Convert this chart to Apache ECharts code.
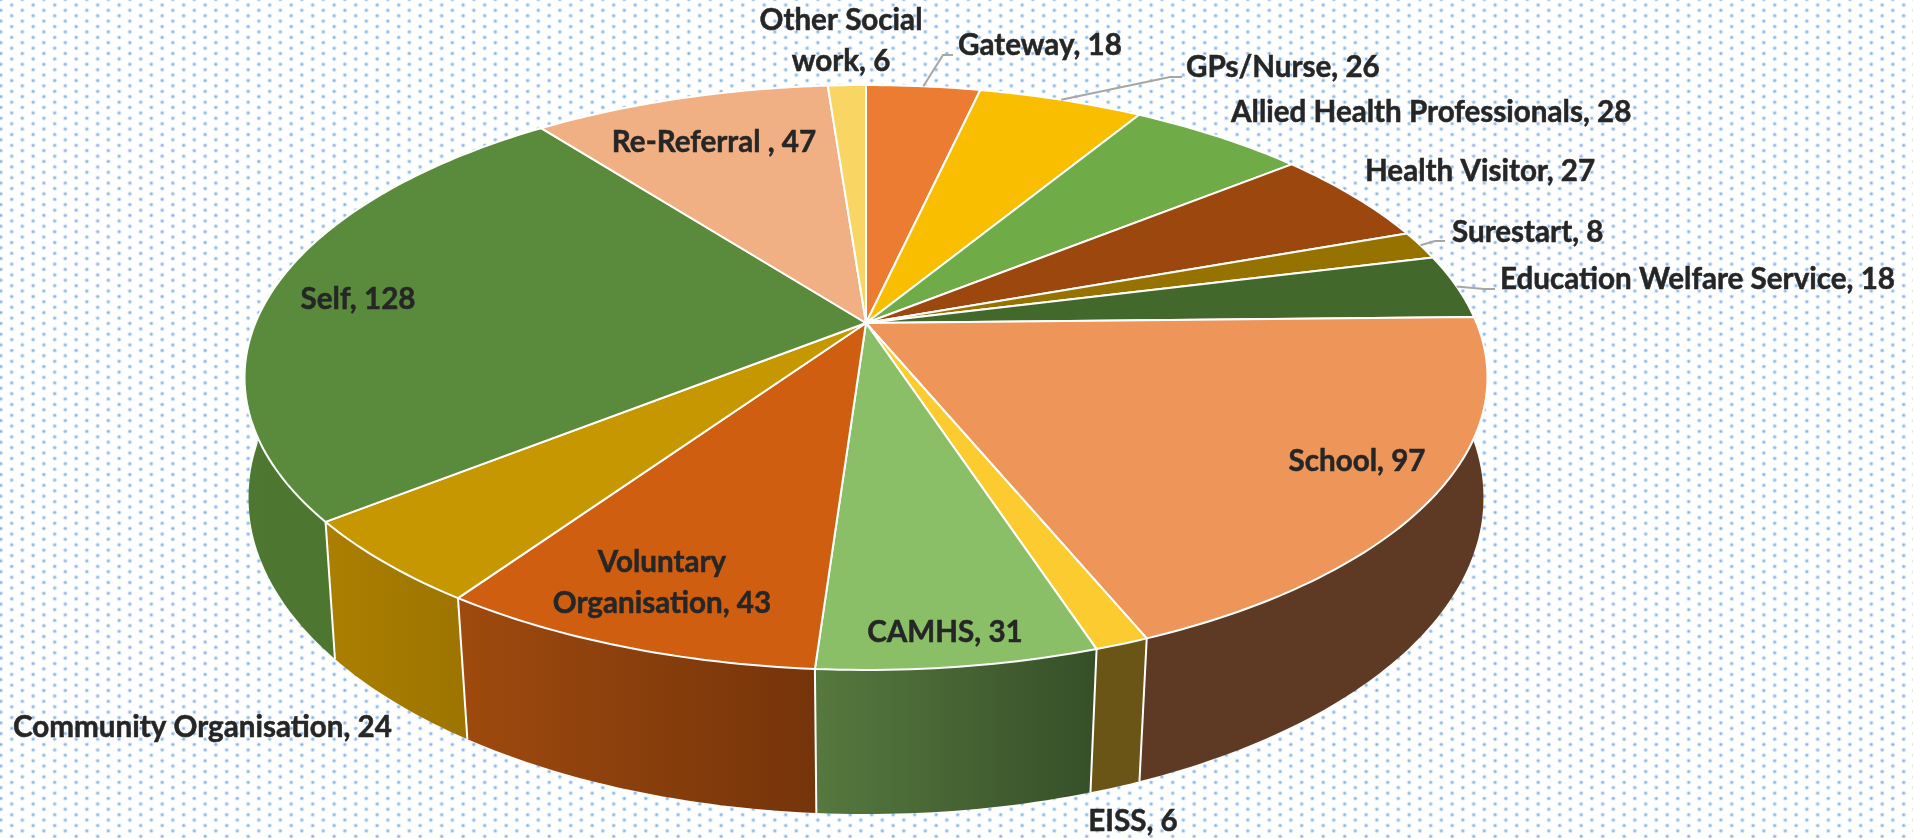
<!DOCTYPE html>
<html>
<head>
<meta charset="utf-8">
<title>Referral sources</title>
<script src="https://cdn.jsdelivr.net/npm/echarts@6/dist/echarts.min.js"></script>
<style>
    html, body { margin: 0; height: 100%; overflow: hidden; background-color: #fff; }
    /* dotted pattern fill behind the chart */
    body {
        background-image:
            radial-gradient(circle, rgba(80,145,222,.85) 0, rgba(100,160,226,.65) 1px, rgba(150,196,240,.22) 2px, rgba(255,255,255,0) 2.8px),
            radial-gradient(circle, rgba(80,145,222,.85) 0, rgba(100,160,226,.65) 1px, rgba(150,196,240,.22) 2px, rgba(255,255,255,0) 2.8px);
        background-size: 21.5px 10.8px;
        background-position: 0.95px -0.4px, -9.95px 4.9px;
    }
    #chart { width: 1913px; height: 838px; }
</style>
</head>
<body>
<div id="chart"></div>
<script>
const categories = ['Gateway', 'GPs/Nurse', 'Allied Health Professionals', 'Health Visitor', 'Surestart',
    'Education Welfare Service', 'School', 'EISS', 'CAMHS', 'Voluntary\nOrganisation',
    'Community Organisation', 'Self', 'Re-Referral ', 'Other Social\nwork'];
const values = [18, 26, 28, 27, 8, 18, 97, 6, 31, 43, 24, 128, 47, 6];

const topColors = ['#EB7C31', '#FABE00', '#6FAB47', '#9C470E', '#967200', '#43682B', '#EE9559',
    '#FCCB30', '#8ABF67', '#CF5E11', '#C79700', '#5A8A3B', '#F1AF84', '#F9D564'];
const wallFrom = ['#B85F25', '#C09000', '#55843A', '#77360A', '#735600', '#334E20', '#5E3A24',
    '#6A5416', '#56793F', '#9F4A0E', '#AB7F00', '#4E7831', '#B8855F', '#BFA24C'];
const wallTo = ['#B85F25', '#C09000', '#55843A', '#77360A', '#735600', '#334E20', '#5E3A24',
    '#6A5416', '#364F28', '#75340A', '#9C7400', '#4A7230', '#B8855F', '#BFA24C'];

// [align, x, y] of each data label, same order as categories
const labelLayout = [
    ['left', 958, 45], ['left', 1186, 67], ['left', 1231, 112], ['left', 1365, 171], ['left', 1452, 232],
    ['left', 1500, 279], ['center', 1357, 461], ['center', 1133, 821], ['center', 945, 632], ['center', 662, 583],
    ['left', 13, 727], ['center', 358, 299], ['center', 714, 142], ['center', 841, 41]
];
// elbow + end of the leader lines, starts come from the slice middle
const leaders = {
    0: [[943, 55], [953, 55]],
    1: [[1170, 77], [1182, 77]],
    4: [[1435, 241], [1445, 241]],
    5: [[1484, 289], [1495, 289]]
};

// perspective of the 3D pie: top face and bottom face
const cx = 866;
const topFace = { y: 323, a: 610.6, b: 282.3, k: 0.1863 };
const bottomFace = { y: 445.4, a: 609, b: 307.8, k: 0.165 };

const total = values.reduce((a, b) => a + b, 0);
const starts = [];
values.reduce((sum, v, i) => { starts[i] = sum; return sum + v; }, 0);
const toAngle = v => v / total * Math.PI * 2;

function project(angle, face) {
    const X = Math.sin(angle), Y = -Math.cos(angle);
    const w = 1 - face.k * Y;
    return [cx + face.a * X / w, face.y + face.b * Y / w];
}

function arc(a0, a1, face) {
    const pts = [];
    const steps = Math.max(4, Math.ceil((a1 - a0) * 60));
    for (let i = 0; i <= steps; i++) pts.push(project(a0 + (a1 - a0) * i / steps, face));
    return pts;
}

function renderWall(params, api) {
    const i = params.dataIndex;
    const a0 = toAngle(starts[i]), a1 = toAngle(starts[i] + api.value(0));
    const top = arc(a0, a1, topFace), bottom = arc(a0, a1, bottomFace).reverse();
    return {
        type: 'group',
        children: [
            {
                type: 'polygon',
                shape: { points: top.concat(bottom) },
                style: {
                    fill: new echarts.graphic.LinearGradient(0, 0, 1, 0, [
                        { offset: 0, color: wallFrom[i] },
                        { offset: 1, color: wallTo[i] }
                    ])
                }
            },
            {
                type: 'polyline',
                shape: { points: [project(a0, topFace), project(a0, bottomFace)] },
                style: { stroke: '#fff', lineWidth: 2, fill: null }
            }
        ]
    };
}

function renderTop(params, api) {
    const i = params.dataIndex;
    const a0 = toAngle(starts[i]), a1 = toAngle(starts[i] + api.value(0));
    return {
        type: 'polygon',
        shape: { points: [[cx, topFace.y]].concat(arc(a0, a1, topFace)) },
        style: { fill: topColors[i], stroke: '#fff', lineWidth: 2, lineJoin: 'round' }
    };
}

function renderLabel(params, api) {
    const i = params.dataIndex;
    const [align, x, y] = labelLayout[i];
    const children = [];
    if (leaders[i]) {
        const mid = toAngle(starts[i] + api.value(0) / 2);
        children.push({
            type: 'polyline',
            shape: { points: [project(mid, topFace)].concat(leaders[i]) },
            style: { stroke: '#A6A6A6', lineWidth: 2, fill: null }
        });
    }
    children.push({
        type: 'text',
        style: {
            text: categories[i] + ', ' + api.value(0),
            x: x,
            y: y,
            align: align,
            verticalAlign: 'middle',
            fontFamily: 'Lato',
            fontWeight: 'bold',
            fontSize: 29.6,
            lineHeight: 41,
            fill: '#262626',
            stroke: '#262626',
            lineWidth: 0.5
        }
    });
    return { type: 'group', children: children };
}

const chart = echarts.init(document.getElementById('chart'));
chart.setOption({
    animation: false,
    series: [
        { type: 'custom', coordinateSystem: 'none', silent: true, z: 1, data: values, renderItem: renderWall },
        { type: 'custom', coordinateSystem: 'none', silent: true, z: 2, data: values, renderItem: renderTop },
        { type: 'custom', coordinateSystem: 'none', silent: true, z: 3, data: values, renderItem: renderLabel }
    ]
});
</script>
</body>
</html>
